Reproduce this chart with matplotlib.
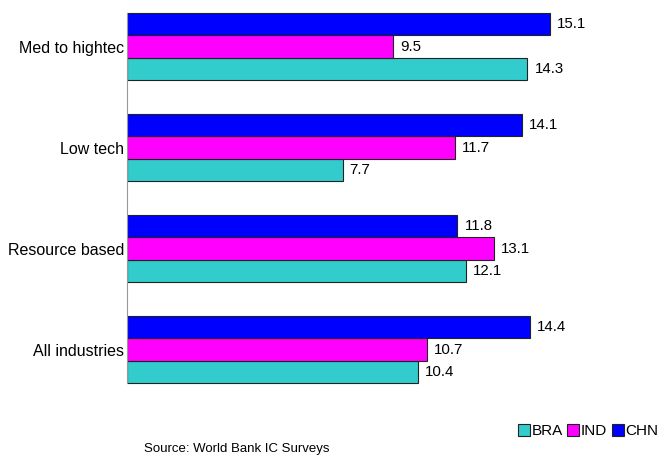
import numpy as np
import matplotlib.pyplot as plt

plt.rcParams['font.family'] = ['Liberation Sans', 'DejaVu Sans']

categories = ['All industries', 'Resource based', 'Low tech', 'Med to hightec']
bra = [10.4, 12.1, 7.7, 14.3]
ind = [10.7, 13.1, 11.7, 9.5]
chn = [14.4, 11.8, 14.1, 15.1]

fig = plt.figure(figsize=(6.6, 4.58), dpi=100)
ax = fig.add_axes([127 / 660, 48 / 458, 504 / 660, 405 / 458])

y = np.arange(len(categories))
h = 0.22
series = [('BRA', bra, '#33CCCC', -h), ('IND', ind, '#FF00FF', 0), ('CHN', chn, '#0000FF', h)]
handles = []
for name, vals, col, off in series:
    bars = ax.barh(y + off, vals, height=h, color=col, edgecolor='#222222', linewidth=0.8, label=name)
    handles.append(bars)
    for b, v in zip(bars, vals):
        ax.text(b.get_width() + 0.25, b.get_y() + b.get_height() / 2, f'{v:.1f}',
                va='center', ha='left', fontsize=10.8)

ax.set_xlim(0, 18)
ax.set_ylim(-0.599, 3.411)
ax.set_yticks(y)
ax.set_yticklabels(categories, fontsize=11.5)
ax.tick_params(axis='y', length=0, pad=2)
ax.set_xticks([])
for s in ['top', 'right', 'bottom']:
    ax.spines[s].set_visible(False)
ax.spines['left'].set_color('#999999')
ax.spines['left'].set_bounds(-0.33, 3.33)

fig.legend(handles=handles, labels=['BRA', 'IND', 'CHN'], loc='center', bbox_to_anchor=(588 / 660, 1 - 431 / 458),
           ncol=3, frameon=False, fontsize=11, handlelength=0.8, handleheight=0.8,
           handletextpad=0.1, columnspacing=0.3, borderpad=0)
fig.text(237 / 660, 1 - 449 / 458, 'Source: World Bank IC Surveys', ha='center', va='center', fontsize=9.5)

fig.savefig('out.png', dpi=100)
